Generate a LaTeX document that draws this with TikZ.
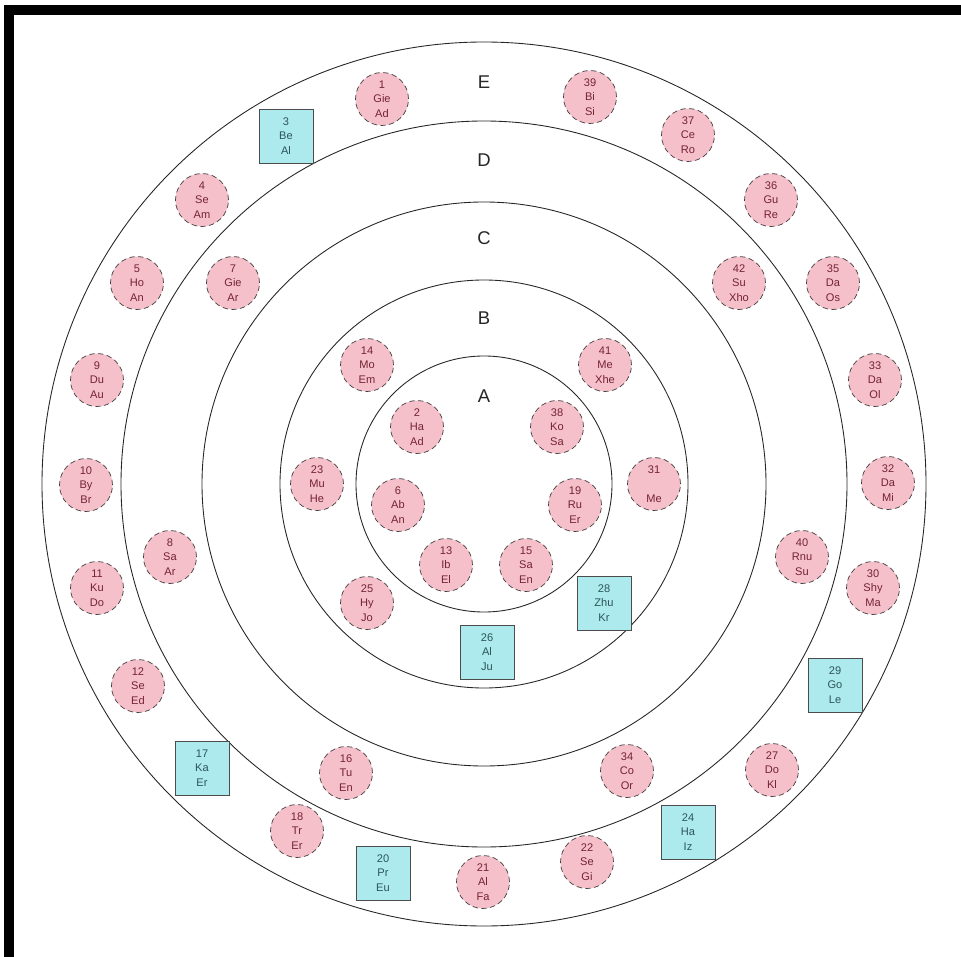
\documentclass[tikz,border=0pt]{standalone}
\usepackage{fontspec}
\setmainfont{Liberation Sans}

\definecolor{elempink}{RGB}{246,192,202}
\definecolor{elemcyan}{RGB}{172,234,238}
\definecolor{elemred}{RGB}{115,35,50}
\definecolor{elemteal}{RGB}{45,85,90}

\tikzset{
    elem/.style={circle, draw=black!75, densely dashed, fill=elempink, minimum size=10.6mm, inner sep=0pt,
        align=center, text=elemred, font=\fontsize{6.3}{8.2}\selectfont},
    elemsq/.style={rectangle, draw=black!70, fill=elemcyan, minimum width=10.8mm, minimum height=10.8mm, inner sep=0pt,
        align=center, text=elemteal, font=\fontsize{6.3}{8.2}\selectfont},
    ringlabel/.style={font=\fontsize{10.5}{12}\selectfont, text=black!85}
}

\begin{document}
\begin{tikzpicture}[x=0.2mm, y=-0.2mm]
    \useasboundingbox (0,0) rectangle (961,957);
    \fill[white] (0,0) rectangle (961,957);

    % Frame
    \fill[black] (4,5) rectangle (961,15);
    \fill[black] (4,5) rectangle (14,957);

    % Rings
    \coordinate (centre) at (484,484);
    \foreach \r in {88.4mm, 72.6mm, 56.4mm, 40.8mm, 25.6mm}
        \draw[black!85, line width=0.5pt] (centre) circle[radius=\r];

    % Ring labels
    \node[ringlabel] (labelE) at (484,82) {E};
    \node[ringlabel] (labelD) at (484,160) {D};
    \node[ringlabel] (labelC) at (484,238) {C};
    \node[ringlabel] (labelB) at (484,318) {B};
    \node[ringlabel] (labelA) at (484,396) {A};

    % Band E
    \node[elem] (n1) at (382,99) {1\\Gie\\Ad};
    \node[elem] (n39) at (590,97) {39\\Bi\\Si};
    \node[elemsq] (n3) at (286,136) {3\\Be\\Al};
    \node[elem] (n37) at (688,135) {37\\Ce\\Ro};
    \node[elem] (n4) at (202,200) {4\\Se\\Am};
    \node[elem] (n36) at (771,200) {36\\Gu\\Re};
    \node[elem] (n5) at (137,283) {5\\Ho\\An};
    \node[elem] (n35) at (833,283) {35\\Da\\Os};
    \node[elem] (n9) at (97,380) {9\\Du\\Au};
    \node[elem] (n33) at (875,380) {33\\Da\\Ol};
    \node[elem] (n10) at (86,485) {10\\By\\Br};
    \node[elem] (n32) at (888,483) {32\\Da\\Mi};
    \node[elem] (n11) at (97,588) {11\\Ku\\Do};
    \node[elem] (n30) at (873,588) {30\\Shy\\Ma};
    \node[elem] (n12) at (138,686) {12\\Se\\Ed};
    \node[elemsq] (n29) at (835,685) {29\\Go\\Le};
    \node[elemsq] (n17) at (202,768) {17\\Ka\\Er};
    \node[elem] (n27) at (772,770) {27\\Do\\Kl};
    \node[elem] (n18) at (297,831) {18\\Tr\\Er};
    \node[elemsq] (n24) at (688,832) {24\\Ha\\Iz};
    \node[elemsq] (n20) at (383,873) {20\\Pr\\Eu};
    \node[elem] (n22) at (587,862) {22\\Se\\Gi};
    \node[elem] (n21) at (483,882) {21\\Al\\Fa};

    % Band D
    \node[elem] (n7) at (233,283) {7\\Gie\\Ar};
    \node[elem] (n42) at (739,283) {42\\Su\\Xho};
    \node[elem] (n8) at (170,557) {8\\Sa\\Ar};
    \node[elem] (n40) at (802,557) {40\\Rnu\\Su};
    \node[elem] (n16) at (346,773) {16\\Tu\\En};
    \node[elem] (n34) at (627,771) {34\\Co\\Or};

    % Band B
    \node[elem] (n14) at (367,365) {14\\Mo\\Em};
    \node[elem] (n41) at (605,365) {41\\Me\\Xhe};
    \node[elem] (n23) at (317,484) {23\\Mu\\He};
    \node[elem] (n31) at (654,484) {31\\\mbox{}\\Me};
    \node[elem] (n25) at (367,603) {25\\Hy\\Jo};
    \node[elemsq] (n26) at (487,652) {26\\Al\\Ju};
    \node[elemsq] (n28) at (604,603) {28\\Zhu\\Kr};

    % Circle A
    \node[elem] (n2) at (417,427) {2\\Ha\\Ad};
    \node[elem] (n38) at (557,427) {38\\Ko\\Sa};
    \node[elem] (n6) at (398,505) {6\\Ab\\An};
    \node[elem] (n19) at (575,505) {19\\Ru\\Er};
    \node[elem] (n13) at (446,565) {13\\Ib\\El};
    \node[elem] (n15) at (526,565) {15\\Sa\\En};
\end{tikzpicture}
\end{document}
